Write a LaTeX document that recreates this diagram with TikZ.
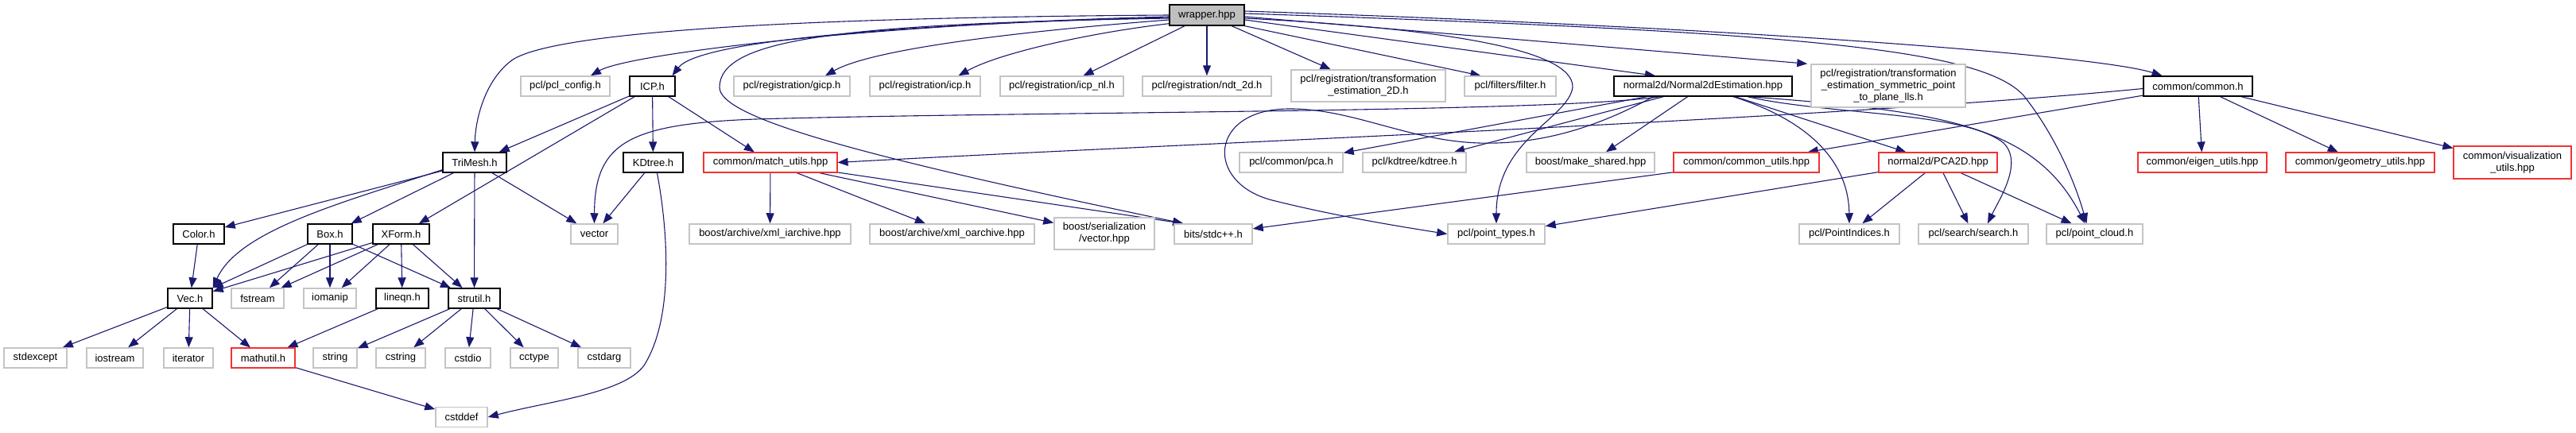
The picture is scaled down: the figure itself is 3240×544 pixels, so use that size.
\documentclass[tikz,border=0pt]{standalone}
\usepackage{fontspec}
\setmainfont{Liberation Sans}
\usetikzlibrary{arrows.meta,calc,backgrounds}
\definecolor{edgecol}{HTML}{191970}
\definecolor{extgray}{HTML}{C4C4C4}
\definecolor{truncred}{HTML}{F03333}
\definecolor{rootfill}{HTML}{BFBFBF}
\begin{document}
\begin{tikzpicture}[x=1pt,y=-1pt,
  nb/.style={draw, fill=white, line width=1.4pt, inner sep=0pt, minimum height=25pt, align=center, font=\fontsize{13}{15}\selectfont},
  doc/.style={nb, draw=black},
  ext/.style={nb, draw=extgray, line width=1.5pt},
  trunc/.style={nb, draw=truncred, line width=1.1pt},
  root/.style={nb, draw=black, fill=rootfill, minimum height=26pt},
  conn/.style={draw=edgecol, line width=1.1pt, -{Triangle[length=13pt,width=10pt]}}]
\useasboundingbox (0,0) rectangle (3240,544);
% row 0
\node[root, minimum width=94pt] (wrapper) at (1518,19) {wrapper.hpp};
% row 1
\node[ext, minimum width=112pt] (pclconfig) at (711,108.5) {pcl/pcl\_config.h};
\node[doc, minimum width=57pt] (icp) at (820.5,108.5) {ICP.h};
\node[ext, minimum width=146pt] (gicp) at (996,108.5) {pcl/registration/gicp.h};
\node[ext, minimum width=139pt] (regicp) at (1163.5,108.5) {pcl/registration/icp.h};
\node[ext, minimum width=155pt] (icpnl) at (1335.5,108.5) {pcl/registration/icp\_nl.h};
\node[ext, minimum width=162pt] (ndt) at (1518,108.5) {pcl/registration/ndt\_2d.h};
\node[ext, minimum width=194pt, minimum height=40pt] (tr2d) at (1721,108) {pcl/registration/transformation\\\_estimation\_2D.h};
\node[ext, minimum width=115pt] (filter) at (1899.5,108.5) {pcl/filters/filter.h};
\node[doc, minimum width=224pt] (n2d) at (2142,108.5) {normal2d/Normal2dEstimation.hpp};
\node[ext, minimum width=194pt, minimum height=54pt] (trsym) at (2375,108) {pcl/registration/transformation\\\_estimation\_symmetric\_point\\\_to\_plane\_lls.h};
\node[doc, minimum width=137pt] (common) at (2764.5,108.5) {common/common.h};
% row 2
\node[doc, minimum width=80pt] (trimesh) at (597,204.5) {TriMesh.h};
\node[doc, minimum width=75pt] (kdtree) at (821.5,204.5) {KDtree.h};
\node[trunc, minimum width=168pt] (match) at (969,204.5) {common/match\_utils.hpp};
\node[ext, minimum width=130pt] (pca) at (1624,204.5) {pcl/common/pca.h};
\node[ext, minimum width=130pt] (kdtreeh) at (1779,204.5) {pcl/kdtree/kdtree.h};
\node[ext, minimum width=161pt] (mkshared) at (2000.5,204.5) {boost/make\_shared.hpp};
\node[trunc, minimum width=183pt] (cutils) at (2196.5,204.5) {common/common\_utils.hpp};
\node[trunc, minimum width=149pt] (pcatwod) at (2437.5,204.5) {normal2d/PCA2D.hpp};
\node[trunc, minimum width=162pt] (eigen) at (2770,204.5) {common/eigen\_utils.hpp};
\node[trunc, minimum width=187pt] (geom) at (2968.5,204.5) {common/geometry\_utils.hpp};
\node[trunc, minimum width=148pt, minimum height=41pt] (vis) at (3160,204.5) {common/visualization\\\_utils.hpp};
% row 3
\node[doc, minimum width=64pt] (color) at (250,294.5) {Color.h};
\node[doc, minimum width=56pt] (boxh) at (415,294.5) {Box.h};
\node[doc, minimum width=71pt] (xform) at (504.5,294.5) {XForm.h};
\node[ext, minimum width=59pt] (vectorh) at (747.5,294.5) {vector};
\node[ext, minimum width=203pt] (xmli) at (968.5,294.5) {boost/archive/xml\_iarchive.hpp};
\node[ext, minimum width=207pt] (xmlo) at (1197.5,294.5) {boost/archive/xml\_oarchive.hpp};
\node[ext, minimum width=126pt, minimum height=40pt] (servec) at (1389,294) {boost/serialization\\/vector.hpp};
\node[ext, minimum width=98pt] (bits) at (1526,294.5) {bits/stdc++.h};
\node[ext, minimum width=122pt] (ptypes) at (1882,294.5) {pcl/point\_types.h};
\node[ext, minimum width=126pt] (pidx) at (2326,294.5) {pcl/PointIndices.h};
\node[ext, minimum width=138pt] (search) at (2482,294.5) {pcl/search/search.h};
\node[ext, minimum width=121pt] (pcloud) at (2634.5,294.5) {pcl/point\_cloud.h};
% row 4
\node[doc, minimum width=56pt] (vec) at (239,375.5) {Vec.h};
\node[ext, minimum width=66pt] (fstream) at (324,375.5) {fstream};
\node[ext, minimum width=66pt] (iomanip) at (415,375.5) {iomanip};
\node[doc, minimum width=66pt] (lineqn) at (506,375.5) {lineqn.h};
\node[doc, minimum width=65pt] (strutil) at (596.5,375.5) {strutil.h};
% row 5
\node[ext, minimum width=79pt] (stdexcept) at (44.5,450.5) {stdexcept};
\node[ext, minimum width=71pt] (iostream) at (144.5,450.5) {iostream};
\node[ext, minimum width=62pt] (iterator) at (237,450.5) {iterator};
\node[trunc, minimum width=80pt] (mathutil) at (331,450.5) {mathutil.h};
\node[ext, minimum width=55pt] (stringh) at (421.5,450.5) {string};
\node[ext, minimum width=62pt] (cstring) at (504,450.5) {cstring};
\node[ext, minimum width=57pt] (cstdio) at (588.5,450.5) {cstdio};
\node[ext, minimum width=60pt] (cctype) at (672,450.5) {cctype};
\node[ext, minimum width=66pt] (cstdarg) at (760,450.5) {cstdarg};
% row 6
\node[ext, minimum width=65pt] (cstddef) at (580.5,525) {cstddef};

\begin{scope}[on background layer]
% wrapper
\draw[conn] (wrapper.west) .. controls (1000,22) and (700,40) .. (645,75) .. controls (610,100) and (598,150) .. (trimesh.north);
\draw[conn] ($(wrapper.west)+(0,2)$) .. controls (1100,30) and (790,68) .. ($(pclconfig.north)+(32,0)$);
\draw[conn] ($(wrapper.west)+(0,3)$) .. controls (1150,30) and (880,50) .. ($(icp.north)+(25,0)$);
\draw[conn] ($(wrapper.west)+(0,4)$) .. controls (1050,30) and (905,50) .. (905,110) .. controls (905,150) and (1100,200) .. ($(bits.north west)+(12,0)$);
\draw[conn] ($(wrapper.west)+(0,6)$) .. controls (1300,38) and (1100,60) .. ($(gicp.north)+(42,0)$);
\draw[conn] ($(wrapper.south west)+(0,-3)$) .. controls (1380,40) and (1260,65) .. ($(regicp.north)+(42,0)$);
\draw[conn] (wrapper) -- (icpnl);
\draw[conn] (wrapper) -- (ndt);
\draw[conn] (wrapper) -- (tr2d);
\draw[conn] (wrapper.south east) -- ($(filter.north)+(-37,0)$);
\draw[conn] ($(wrapper.east)+(0,4)$) .. controls (1800,35) and (1980,60) .. (1978,110) .. controls (1972,150) and (1882,175) .. (ptypes.north);
\draw[conn] ($(wrapper.east)+(0,6)$) -- ($(n2d.north)+(-60,0)$);
\draw[conn] ($(wrapper.east)+(0,2)$) -- ($(trsym.north west)+(-4,0)$);
\draw[conn] ($(wrapper.east)+(0,-5)$) .. controls (2200,35) and (2640,70) .. ($(common.north)+(-45,0)$);
\draw[conn] ($(wrapper.east)+(0,-2)$) .. controls (2250,40) and (2490,60) .. (2545,120) .. controls (2585,170) and (2610,230) .. ($(pcloud.north)+(-10,0)$);
% ICP
\draw[conn] (icp) -- (trimesh);
\draw[conn] (icp) -- (xform);
\draw[conn] (icp) -- (kdtree);
\draw[conn] (icp) -- (match);
% TriMesh
\draw[conn] (trimesh) -- (color);
\draw[conn] ($(trimesh.south west)+(0,-4)$) .. controls (430,255) and (300,290) .. (vec.north east);
\draw[conn] (trimesh) -- (boxh);
\draw[conn] (trimesh) -- (strutil);
\draw[conn] (trimesh) -- (vectorh);
% KDtree
\draw[conn] (kdtree) -- (vectorh);
\draw[conn] ($(kdtree.south)+(5,0)$) .. controls (840,290) and (848,400) .. (810,460) .. controls (785,495) and (690,505) .. (cstddef.east);
% match_utils
\draw[conn] (match) -- (xmli);
\draw[conn] (match) -- (xmlo);
\draw[conn] (match) -- (servec);
\draw[conn] (match) -- ($(bits.north west)+(12,0)$);
% Normal2dEstimation
\draw[conn] ($(n2d.south west)+(58,0)$) .. controls (1950,142) and (1300,140) .. (950,150) .. controls (790,156) and (748,180) .. (vectorh.north);
\draw[conn] (n2d) -- (pca);
\draw[conn] (n2d) -- (kdtreeh);
\draw[conn] ($(n2d.south west)+(50,0)$) .. controls (2000,165) and (1930,182) .. (1860,180) .. controls (1770,177) and (1700,136) .. (1620,137) .. controls (1520,138) and (1515,230) .. (1600,252) .. controls (1680,272) and (1760,285) .. (ptypes.west);
\draw[conn] (n2d) -- (mkshared);
\draw[conn] ($(n2d.south)+(38,0)$) .. controls (2270,150) and (2325,200) .. (pidx.north);
\draw[conn] (n2d) -- (pcatwod);
\draw[conn] ($(n2d.south)+(56,0)$) .. controls (2300,145) and (2470,140) .. (2520,180) .. controls (2545,205) and (2515,250) .. ($(search.north)+(18,0)$);
\draw[conn] ($(n2d.south)+(58,0)$) .. controls (2450,140) and (2560,160) .. ($(pcloud.north)+(-12,0)$);
% common.h
\draw[conn] ($(common.west)+(0,3)$) .. controls (2300,150) and (1500,180) .. (match.east);
\draw[conn] (common) -- (cutils);
\draw[conn] (common) -- (eigen);
\draw[conn] (common) -- (geom);
\draw[conn] (common) -- (vis);
% common_utils
\draw[conn] (cutils) -- (bits);
% PCA2D
\draw[conn] (pcatwod) -- (ptypes);
\draw[conn] (pcatwod) -- (pidx);
\draw[conn] (pcatwod) -- (search);
\draw[conn] (pcatwod) -- (pcloud);
% Color, Box, XForm
\draw[conn] (color) -- (vec);
\draw[conn] (boxh) -- (vec);
\draw[conn] (boxh) -- (fstream);
\draw[conn] (boxh) -- (iomanip);
\draw[conn] (boxh) -- (strutil);
\draw[conn] (xform) -- (vec);
\draw[conn] (xform) -- (fstream);
\draw[conn] (xform) -- (iomanip);
\draw[conn] (xform) -- (lineqn);
\draw[conn] (xform) -- (strutil);
% Vec
\draw[conn] (vec) -- (stdexcept);
\draw[conn] (vec) -- (iostream);
\draw[conn] (vec) -- (iterator);
\draw[conn] (vec) -- (mathutil);
% lineqn
\draw[conn] (lineqn) -- (mathutil);
% strutil
\draw[conn] (strutil) -- (stringh);
\draw[conn] (strutil) -- (cstring);
\draw[conn] (strutil) -- (cstdio);
\draw[conn] (strutil) -- (cctype);
\draw[conn] (strutil) -- (cstdarg);
% mathutil
\draw[conn] (mathutil) -- (cstddef);
\end{scope}
\end{tikzpicture}
\end{document}
